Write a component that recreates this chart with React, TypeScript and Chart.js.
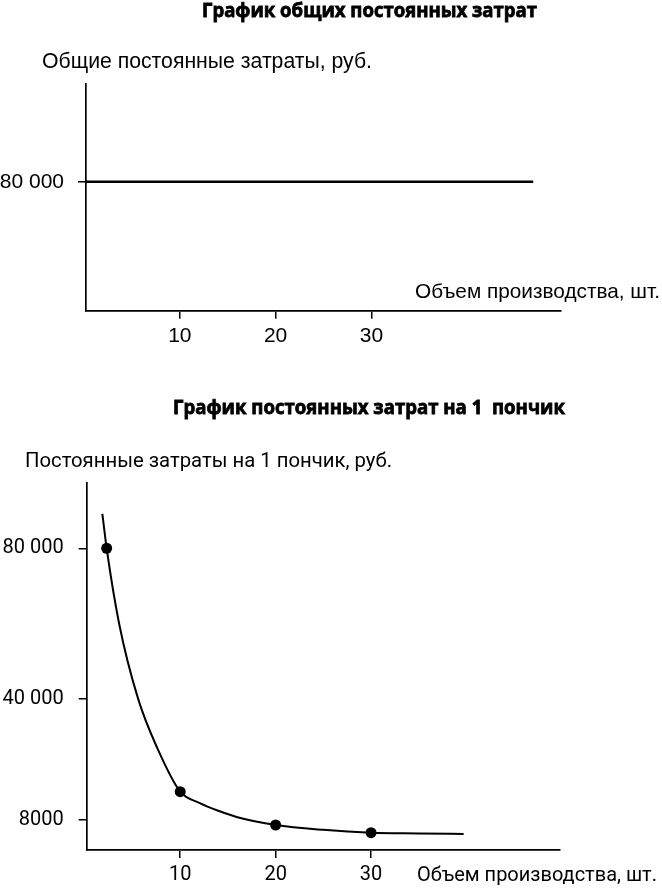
import React, { useEffect, useRef } from "react";
import { Chart, registerables } from "chart.js";

Chart.register(...registerables);

// ---- Data: chart 1 (total fixed costs) ----
const totalX = [0.2, 46.9];
const totalY = [80000, 80000];
const topXTicks = [10, 20, 30];
const topYTicks = [80000];
const topYTickLabels = ["80 000"];

// ---- Data: chart 2 (fixed cost per donut) ----
const curveX = [1.84, 2.29, 3.6, 5.6, 7.6, 10, 12, 14, 16, 20, 25, 30, 35, 39.7];
const curveY = [89100, 80000, 60000, 40000, 27000, 15460, 12500, 10400, 8700, 6630, 5350, 4590, 4400, 4240];
const dotX = [2.29, 10, 20, 30];
const dotY = [80000, 15460, 6630, 4590];
const bottomXTicks = [10, 20, 30];
const bottomYTicks = [80000, 40000, 8000];
const bottomYTickLabels = ["80 000", "40 000", "8000"];

// ---- Texts ----
const title1 = "График общих постоянных затрат";
const yTitle1 = "Общие постоянные затраты, руб.";
const xTitle1 = "Объем производства, шт.";
const title2 = "График постоянных затрат на 1  пончик";
const yTitle2 = "Постоянные затраты на 1 пончик, руб.";
const xTitle2 = "Объем производства, шт.";

type TextItem = { text: string; x: number; y: number; w: number; family: string; weight: string; size: number; stroke?: number };

function textPlugin(items: TextItem[]) {
  return {
    id: "texts",
    afterDraw(chart: any) {
      const ctx = chart.ctx;
      for (const it of items) {
        ctx.save();
        ctx.fillStyle = "#000";
        ctx.strokeStyle = "#000";
        ctx.textAlign = "left";
        ctx.textBaseline = "middle";
        ctx.font = `${it.weight} ${it.size}px ${it.family}`;
        const m = ctx.measureText(it.text).width;
        ctx.translate(it.x, it.y);
        ctx.scale(it.w / m, 1);
        ctx.fillText(it.text, 0, 0);
        if (it.stroke) {
          ctx.lineWidth = it.stroke;
          ctx.strokeText(it.text, 0, 0);
        }
        ctx.restore();
      }
    },
  };
}

function makeScales(opts: {
  xMin: number; xMax: number; xTicks: number[]; xH: number;
  yMin: number; yMax: number; yTicks: number[]; yLabels: string[]; yW: number;
  family: string; size: number; xPad: number; yPad: number;
}) {
  const font = { family: opts.family, size: opts.size };
  return {
    x: {
      type: "linear" as const,
      min: opts.xMin,
      max: opts.xMax,
      afterBuildTicks: (s: any) => { s.ticks = opts.xTicks.map((v) => ({ value: v })); },
      afterFit: (s: any) => { s.height = opts.xH; },
      grid: { drawOnChartArea: false, drawTicks: true, tickLength: 8, color: "#000", lineWidth: 1.5 },
      border: { display: true, color: "#000", width: 1.7 },
      ticks: { font, color: "#000", padding: opts.xPad, maxRotation: 0, autoSkip: false, callback: (v: any) => String(v) },
    },
    y: {
      type: "linear" as const,
      min: opts.yMin,
      max: opts.yMax,
      afterBuildTicks: (s: any) => { s.ticks = opts.yTicks.map((v) => ({ value: v })); },
      afterFit: (s: any) => { s.width = opts.yW; },
      grid: { drawOnChartArea: false, drawTicks: true, tickLength: 8, color: "#000", lineWidth: 1.5 },
      border: { display: true, color: "#000", width: 1.7 },
      ticks: {
        font, color: "#000", padding: opts.yPad, autoSkip: false,
        callback: (v: any) => { const i = opts.yTicks.indexOf(Number(v)); return i >= 0 ? opts.yLabels[i] : ""; },
      },
    },
  };
}

export default function App() {
  const ref1 = useRef<HTMLCanvasElement>(null);
  const ref2 = useRef<HTMLCanvasElement>(null);

  useEffect(() => {
    const c1 = new Chart(ref1.current!, {
      type: "line",
      data: {
        datasets: [
          {
            data: totalX.map((x, i) => ({ x, y: totalY[i] })),
            borderColor: "#000",
            borderWidth: 2.6,
            pointRadius: 0,
            fill: false,
          },
        ],
      },
      options: {
        responsive: false,
        animation: false,
        layout: { padding: { top: 84, right: 101, bottom: 0, left: 0 } },
        plugins: { legend: { display: false }, tooltip: { enabled: false }, title: { display: false } },
        scales: makeScales({
          xMin: 0.2, xMax: 49.8, xTicks: topXTicks, xH: 59.3,
          yMin: 0, yMax: 140600, yTicks: topYTicks, yLabels: topYTickLabels, yW: 86,
          family: '"Liberation Sans", Arial, sans-serif', size: 21, xPad: 5, yPad: 14,
        }) as any,
      },
      plugins: [
        textPlugin([
          { text: title1, x: 202, y: 11, w: 335, family: '"Open Sans"', weight: "bold", size: 19.5, stroke: 0.8 },
          { text: yTitle1, x: 42, y: 62, w: 330, family: '"Liberation Sans"', weight: "normal", size: 22 },
          { text: xTitle1, x: 415, y: 292, w: 245, family: '"Liberation Sans"', weight: "normal", size: 21 },
        ]),
      ],
    });

    const c2 = new Chart(ref2.current!, {
      type: "line",
      data: {
        datasets: [
          {
            data: dotX.map((x, i) => ({ x, y: dotY[i] })),
            showLine: false,
            pointRadius: 5.5,
            pointBackgroundColor: "#000",
            pointBorderColor: "#000",
            pointBorderWidth: 0,
            order: 0,
          },
          {
            data: curveX.map((x, i) => ({ x, y: curveY[i] })),
            borderColor: "#000",
            borderWidth: 2,
            pointRadius: 0,
            cubicInterpolationMode: "monotone",
            fill: false,
            order: 1,
          },
        ],
      },
      options: {
        responsive: false,
        animation: false,
        layout: { padding: { top: 113, right: 102, bottom: 0, left: 0 } },
        plugins: { legend: { display: false }, tooltip: { enabled: false }, title: { display: false } },
        scales: makeScales({
          xMin: 0.2, xMax: 49.8, xTicks: bottomXTicks, xH: 39,
          yMin: 0, yMax: 97300, yTicks: bottomYTicks, yLabels: bottomYTickLabels, yW: 86.7,
          family: "Roboto, sans-serif", size: 20, xPad: 5, yPad: 15,
        }) as any,
      },
      plugins: [
        textPlugin([
          { text: title2, x: 173, y: 38, w: 392, family: '"Open Sans"', weight: "bold", size: 19.5, stroke: 0.8 },
          { text: yTitle2, x: 25, y: 92, w: 367, family: "Roboto", weight: "normal", size: 20.5 },
          { text: xTitle2, x: 417, y: 506, w: 240, family: "Roboto", weight: "normal", size: 20.5 },
        ]),
      ],
    });

    return () => {
      c1.destroy();
      c2.destroy();
    };
  }, []);

  return (
    <div style={{ position: "absolute", left: 0, top: 0, width: 662, height: 889, background: "#fff" }}>
      <canvas ref={ref1} width={662} height={370} style={{ position: "absolute", left: 0, top: 0, width: 662, height: 370 }} />
      <canvas ref={ref2} width={662} height={519} style={{ position: "absolute", left: 0, top: 370, width: 662, height: 519 }} />
    </div>
  );
}
